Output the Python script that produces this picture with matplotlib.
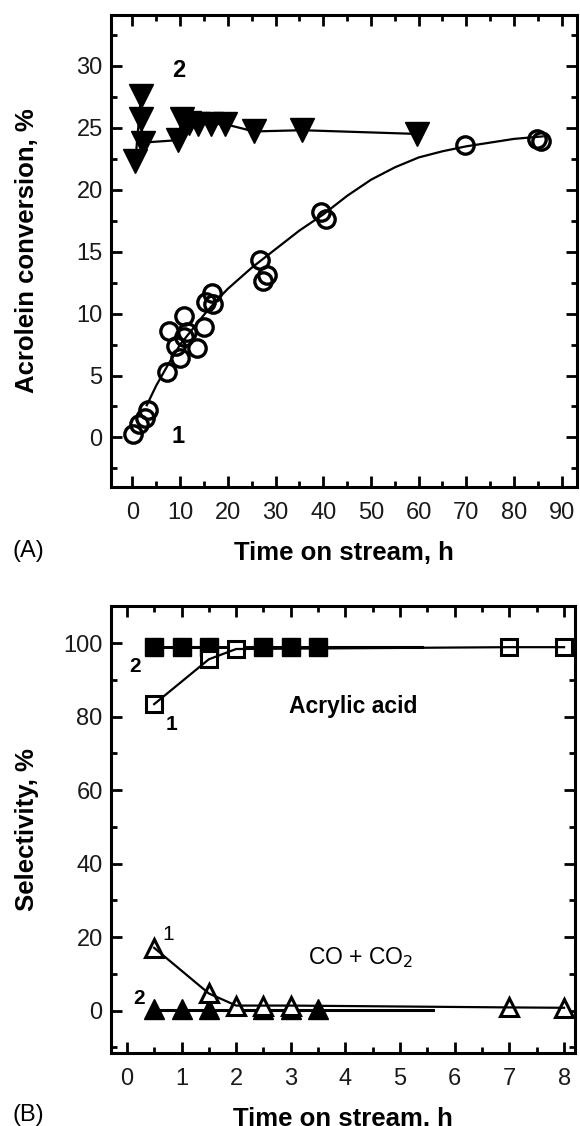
import numpy as np
import matplotlib
matplotlib.use("Agg")
import matplotlib.pyplot as plt
from matplotlib.ticker import MultipleLocator

plt.rcParams["font.family"] = ["Liberation Sans", "DejaVu Sans"]

# ── panel A data: acrolein conversion vs time ────────────────────────────────
a1_time = [0.2, 1.4, 2.6, 3.3, 7.2, 7.6, 9.2, 9.9, 10.8, 10.8, 11.5, 13.5, 15.0,
           15.4, 16.6, 16.9, 26.7, 27.4, 28.2, 39.5, 40.6, 69.8, 84.9, 85.7]
a1_conv = [0.3, 1.1, 1.6, 2.2, 5.3, 8.6, 7.4, 6.4, 9.8, 8.1, 8.5, 7.2, 8.9,
           10.9, 11.7, 10.8, 14.3, 12.6, 13.1, 18.2, 17.6, 23.6, 24.1, 23.9]
# hand-drawn trend curve through series 1
a1_fit_time = [3, 5, 7.5, 10, 12.5, 15, 17.5, 20, 25, 30, 35, 40, 45, 50, 55,
               60, 65, 70, 75, 80, 86]
a1_fit_conv = [2.6, 4.2, 5.9, 7.5, 8.7, 9.9, 11.0, 12.0, 13.7, 15.2, 16.7, 18.0,
               19.5, 20.8, 21.8, 22.6, 23.1, 23.5, 23.8, 24.1, 24.3]

a2_time = [0.6, 1.8, 1.8, 2.2, 9.6, 10.3, 11.9, 13.8, 16.5, 19.3, 25.5, 35.6, 59.7]
a2_conv = [22.3, 27.6, 25.7, 23.8, 24.0, 25.7, 25.4, 25.3, 25.3, 25.3, 24.7, 24.8, 24.5]

# ── panel B data: selectivity vs time ────────────────────────────────────────
b_aa1_time = [0.5, 1.5, 2.0, 7.0, 8.0]
b_aa1_sel = [83.4, 95.6, 98.4, 98.9, 98.9]
b_aa2_time = [0.5, 1.0, 1.5, 2.5, 3.0, 3.5]
b_aa2_sel = [98.9, 98.9, 98.9, 98.9, 98.9, 98.9]
b_aa2_line_time = [0.5, 5.4]
b_aa2_line_sel = [98.9, 98.9]

b_co1_time = [0.5, 1.5, 2.0, 2.5, 3.0, 7.0, 8.0]
b_co1_sel = [17.1, 4.7, 1.4, 1.4, 1.4, 0.9, 0.8]
b_co2_time = [0.5, 1.0, 1.5, 2.5, 3.0, 3.5]
b_co2_sel = [0.6, 0.6, 0.6, 0.6, 0.6, 0.6]
b_co2_line_time = [0.5, 5.6]
b_co2_line_sel = [0.3, 0.3]

W, H = 580, 1126
fig = plt.figure(figsize=(W / 100, H / 100), dpi=100)

TICK_FS = 17
LABEL_FS = 18.5


def style_axes(ax):
    for s in ax.spines.values():
        s.set_linewidth(2.2)
        s.set_zorder(6)
    ax.tick_params(which="both", direction="in", top=True, right=True,
                   width=2.0, labelsize=TICK_FS, labelcolor="#1a1a1a")
    ax.tick_params(which="major", length=8)
    ax.tick_params(which="minor", length=4.5)
    ax.tick_params(axis="x", which="major", pad=11)
    ax.tick_params(axis="y", which="major", pad=6)


def place_labels(ax, bottom_px, top_px):
    h = bottom_px - top_px
    ax.xaxis.label.set_va("center")
    ax.xaxis.set_label_coords(0.5, -66 / h)
    ax.yaxis.label.set_va("center")
    ax.yaxis.set_label_coords(-84 / 466, 0.5)


# ── panel A ──────────────────────────────────────────────────────────────────
axA = fig.add_axes([111 / W, 1 - 487 / H, (577 - 111) / W, (487 - 15) / H])
axA.plot(a1_fit_time, a1_fit_conv, color="black", lw=1.6, zorder=2)
axA.plot(a1_time, a1_conv, ls="none", marker="o", ms=12.5, mfc="none",
         mec="black", mew=2.4, zorder=3)
axA.plot(a2_time, a2_conv, color="black", lw=1.6, marker="v", ms=17,
         mfc="black", mec="black", mew=1, zorder=3)

axA.text(9.6, 29.6, "2", fontsize=17, fontweight="bold", ha="center", va="center")
axA.text(9.6, 0.1, "1", fontsize=17, fontweight="bold", ha="center", va="center")

axA.set_xlim(-4.5, 93.2)
axA.set_ylim(-4, 34.1)
axA.xaxis.set_major_locator(MultipleLocator(10))
axA.xaxis.set_minor_locator(MultipleLocator(5))
axA.yaxis.set_major_locator(MultipleLocator(5))
axA.yaxis.set_minor_locator(MultipleLocator(2.5))
style_axes(axA)
axA.set_xlabel("Time on stream, h", fontsize=LABEL_FS, fontweight="bold")
axA.set_ylabel("Acrolein conversion, %", fontsize=LABEL_FS, fontweight="bold")
place_labels(axA, 487, 15)
fig.text(12 / W, 1 - 551 / H, "(A)", fontsize=17, va="center", ha="left")

# ── panel B ──────────────────────────────────────────────────────────────────
axB = fig.add_axes([111 / W, 1 - 1053 / H, (575 - 111) / W, (1053 - 606) / H])
# filled series (2)
axB.plot(b_aa2_line_time, b_aa2_line_sel, color="black", lw=2.2, zorder=2)
axB.plot(b_aa2_time, b_aa2_sel, ls="none", marker="s", ms=12.5,
         mfc="black", mec="black", mew=1, zorder=3)
axB.plot(b_co2_line_time, b_co2_line_sel, color="black", lw=2.2, zorder=2)
axB.plot(b_co2_time, b_co2_sel, ls="none", marker="^", ms=14,
         mfc="black", mec="black", mew=1, zorder=3)
# open series (1): white markers, connecting line drawn over them
axB.plot(b_aa1_time, b_aa1_sel, ls="none", marker="s", ms=11,
         mfc="white", mec="black", mew=2.2, zorder=4)
axB.plot(b_aa1_time, b_aa1_sel, color="black", lw=1.6, zorder=5)
axB.plot(b_co1_time, b_co1_sel, ls="none", marker="^", ms=12.5,
         mfc="white", mec="black", mew=2.2, zorder=4)
axB.plot(b_co1_time, b_co1_sel, color="black", lw=1.6, zorder=5)

axB.text(0.15, 93.6, "2", fontsize=15, fontweight="bold", ha="center", va="center")
axB.text(0.82, 77.8, "1", fontsize=15, fontweight="bold", ha="center", va="center")
axB.text(4.14, 82.7, "Acrylic acid", fontsize=16.5, fontweight="bold",
         ha="center", va="center")
axB.text(0.75, 20.7, "1", fontsize=15, ha="center", va="center")
axB.text(0.22, 3.2, "2", fontsize=15, fontweight="bold", ha="center", va="center")
axB.text(4.27, 14.5, "CO + CO$_2$", fontsize=16.5, ha="center", va="center")

axB.set_xlim(-0.29, 8.2)
axB.set_ylim(-11.5, 110.1)
axB.xaxis.set_major_locator(MultipleLocator(1))
axB.xaxis.set_minor_locator(MultipleLocator(0.5))
axB.yaxis.set_major_locator(MultipleLocator(20))
axB.yaxis.set_minor_locator(MultipleLocator(10))
style_axes(axB)
axB.set_xlabel("Time on stream, h", fontsize=LABEL_FS, fontweight="bold")
axB.set_ylabel("Selectivity, %", fontsize=LABEL_FS, fontweight="bold")
place_labels(axB, 1053, 606)
fig.text(12 / W, 1 - 1115 / H, "(B)", fontsize=17, va="center", ha="left")

fig.savefig("out.png", dpi=100)
